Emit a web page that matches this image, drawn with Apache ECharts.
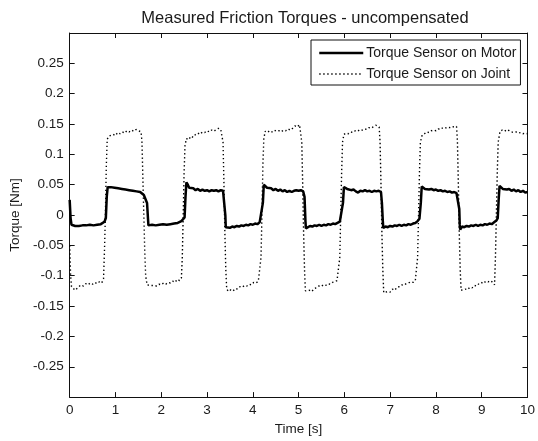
<!DOCTYPE html>
<html>
<head>
<meta charset="utf-8">
<script src="https://cdn.jsdelivr.net/npm/echarts@6/dist/echarts.min.js"></script>
<style>
html,body{margin:0;padding:0;background:#fff;}
#chart{width:538px;height:441px;}
</style>
</head>
<body>
<div id="chart"></div>
<script>
const chartTitle = 'Measured Friction Torques - uncompensated';
const xAxisName = 'Time [s]';
const yAxisName = 'Torque [Nm]';
const seriesNames = ['Torque Sensor on Motor', 'Torque Sensor on Joint'];

// [time s, torque Nm]
const motorTorque = [
  [0,0.025],[0.02,-0.005],[0.04,-0.016],[0.08,-0.019],[0.12,-0.018],[0.16,-0.020],[0.20,-0.018],[0.24,-0.019],[0.28,-0.017],[0.32,-0.019],[0.36,-0.017],[0.40,-0.018],[0.44,-0.016],[0.48,-0.018],[0.52,-0.017],[0.56,-0.018],[0.60,-0.016],[0.64,-0.017],[0.68,-0.015],[0.72,-0.014],[0.76,-0.011],[0.79,-0.005],
  [0.81,0.030],[0.83,0.046],[0.86,0.044],[0.90,0.046],[0.94,0.043],[0.98,0.045],[1.02,0.042],[1.06,0.044],[1.10,0.041],[1.14,0.043],[1.18,0.041],[1.22,0.042],[1.26,0.040],[1.30,0.041],[1.34,0.039],[1.38,0.040],[1.42,0.038],[1.46,0.039],[1.50,0.037],[1.54,0.038],[1.58,0.036],[1.62,0.033],[1.66,0.030],[1.69,0.020],[1.71,-0.005],[1.72,-0.017],
  [1.76,-0.018],[1.80,-0.016],[1.84,-0.018],[1.88,-0.017],[1.92,-0.018],[1.96,-0.016],[2.00,-0.017],[2.04,-0.015],[2.08,-0.017],[2.12,-0.016],[2.16,-0.017],[2.20,-0.015],[2.24,-0.016],[2.28,-0.014],[2.32,-0.015],[2.36,-0.013],[2.40,-0.012],[2.44,-0.010],[2.48,-0.008],[2.51,-0.004],
  [2.53,0.030],[2.55,0.054],[2.58,0.050],[2.61,0.045],[2.65,0.043],[2.70,0.044],[2.75,0.041],[2.80,0.043],[2.85,0.040],[2.90,0.042],[2.95,0.040],[3.00,0.041],[3.05,0.039],[3.10,0.041],[3.15,0.040],[3.20,0.041],[3.25,0.039],[3.30,0.041],[3.35,0.040],[3.38,0.038],[3.40,0.000],[3.41,-0.020],
  [3.45,-0.019],[3.50,-0.021],[3.55,-0.019],[3.60,-0.020],[3.65,-0.018],[3.70,-0.019],[3.75,-0.017],[3.80,-0.018],[3.85,-0.016],[3.90,-0.017],[3.95,-0.015],[4.00,-0.016],[4.05,-0.014],[4.10,-0.015],[4.15,-0.012],[4.19,-0.010],
  [4.22,0.020],[4.24,0.050],[4.27,0.049],[4.31,0.045],[4.35,0.043],[4.40,0.044],[4.45,0.041],[4.50,0.043],[4.55,0.040],[4.60,0.042],[4.65,0.039],[4.70,0.041],[4.75,0.038],[4.80,0.040],[4.85,0.038],[4.90,0.040],[4.95,0.041],[5.00,0.040],[5.05,0.041],[5.10,0.039],[5.13,0.030],[5.15,-0.010],[5.16,-0.022],
  [5.20,-0.020],[5.25,-0.018],[5.30,-0.019],[5.35,-0.017],[5.40,-0.018],[5.45,-0.016],[5.50,-0.018],[5.55,-0.016],[5.60,-0.017],[5.65,-0.015],[5.70,-0.016],[5.75,-0.014],[5.80,-0.015],[5.85,-0.013],[5.90,-0.011],[5.94,-0.008],
  [5.97,0.020],[5.99,0.046],[6.02,0.045],[6.06,0.043],[6.10,0.044],[6.15,0.041],[6.20,0.042],[6.25,0.039],[6.30,0.037],[6.35,0.040],[6.40,0.039],[6.45,0.041],[6.50,0.039],[6.55,0.040],[6.60,0.038],[6.65,0.040],[6.70,0.039],[6.75,0.040],[6.80,0.038],[6.82,0.020],[6.84,-0.010],[6.85,-0.021],
  [6.90,-0.019],[6.95,-0.020],[7.00,-0.018],[7.05,-0.019],[7.10,-0.017],[7.15,-0.018],[7.20,-0.016],[7.25,-0.018],[7.30,-0.016],[7.35,-0.017],[7.40,-0.015],[7.45,-0.016],[7.50,-0.014],[7.55,-0.013],[7.60,-0.010],[7.64,-0.006],
  [7.67,0.020],[7.69,0.047],[7.72,0.045],[7.76,0.043],[7.80,0.044],[7.85,0.042],[7.90,0.043],[7.95,0.041],[8.00,0.042],[8.05,0.040],[8.10,0.041],[8.15,0.039],[8.20,0.040],[8.25,0.038],[8.30,0.039],[8.35,0.037],[8.40,0.038],[8.45,0.036],[8.49,0.033],[8.51,0.010],[8.52,-0.015],[8.53,-0.024],
  [8.57,-0.019],[8.62,-0.020],[8.67,-0.018],[8.72,-0.019],[8.77,-0.017],[8.82,-0.018],[8.87,-0.016],[8.92,-0.018],[8.97,-0.016],[9.02,-0.017],[9.07,-0.015],[9.12,-0.016],[9.17,-0.014],[9.22,-0.015],[9.27,-0.012],[9.32,-0.009],[9.35,-0.005],
  [9.37,0.025],[9.39,0.048],[9.42,0.046],[9.46,0.043],[9.50,0.045],[9.55,0.042],[9.60,0.043],[9.65,0.040],[9.70,0.042],[9.75,0.039],[9.80,0.041],[9.85,0.038],[9.90,0.040],[9.95,0.037],[10.0,0.038]
];

const jointTorque = [
  [0,-0.050],[0.02,-0.100],[0.04,-0.118],[0.08,-0.120],[0.12,-0.124],[0.16,-0.122],[0.20,-0.118],[0.25,-0.115],[0.30,-0.117],[0.35,-0.113],[0.40,-0.115],[0.45,-0.112],[0.50,-0.114],[0.55,-0.111],[0.60,-0.113],[0.65,-0.110],[0.70,-0.112],[0.74,-0.105],
  [0.76,-0.060],[0.78,0.000],[0.80,0.080],[0.82,0.125],[0.86,0.130],[0.90,0.128],[0.95,0.133],[1.00,0.131],[1.05,0.136],[1.10,0.134],[1.15,0.137],[1.20,0.135],[1.25,0.139],[1.30,0.137],[1.35,0.140],[1.40,0.138],[1.45,0.141],[1.50,0.139],[1.54,0.138],
  [1.56,0.137],[1.58,0.120],[1.60,0.060],[1.62,0.000],[1.64,-0.060],[1.66,-0.100],[1.69,-0.115],[1.72,-0.118],[1.76,-0.116],[1.80,-0.119],[1.85,-0.116],[1.90,-0.117],[1.95,-0.114],[2.00,-0.115],[2.05,-0.112],[2.10,-0.114],[2.15,-0.111],[2.20,-0.112],[2.25,-0.109],[2.30,-0.111],[2.35,-0.106],[2.40,-0.108],[2.44,-0.104],
  [2.46,-0.070],[2.48,0.000],[2.50,0.070],[2.52,0.115],[2.55,0.126],[2.60,0.124],[2.65,0.130],[2.70,0.128],[2.75,0.133],[2.80,0.135],[2.85,0.133],[2.90,0.137],[2.95,0.136],[3.00,0.139],[3.05,0.137],[3.10,0.140],[3.15,0.138],[3.20,0.141],[3.25,0.143],[3.30,0.141],[3.33,0.140],
  [3.35,0.120],[3.37,0.050],[3.39,-0.030],[3.41,-0.090],[3.43,-0.122],[3.47,-0.126],[3.52,-0.123],[3.57,-0.125],[3.62,-0.121],[3.67,-0.122],[3.72,-0.118],[3.77,-0.119],[3.82,-0.116],[3.87,-0.117],[3.92,-0.114],[3.97,-0.115],[4.02,-0.111],[4.07,-0.112],[4.12,-0.109],[4.16,-0.108],
  [4.18,-0.070],[4.20,0.000],[4.22,0.080],[4.24,0.125],[4.27,0.138],[4.32,0.136],[4.37,0.139],[4.42,0.137],[4.47,0.140],[4.52,0.138],[4.57,0.139],[4.62,0.137],[4.67,0.140],[4.72,0.139],[4.77,0.142],[4.82,0.140],[4.87,0.143],[4.92,0.147],[4.97,0.145],[5.02,0.149],[5.05,0.146],
  [5.07,0.120],[5.09,0.050],[5.11,-0.030],[5.13,-0.090],[5.15,-0.125],[5.19,-0.128],[5.24,-0.124],[5.29,-0.126],[5.34,-0.121],[5.39,-0.120],[5.44,-0.117],[5.49,-0.118],[5.54,-0.115],[5.59,-0.116],[5.64,-0.113],[5.69,-0.114],[5.74,-0.111],[5.79,-0.110],[5.84,-0.108],[5.88,-0.106],
  [5.90,-0.070],[5.92,0.000],[5.94,0.070],[5.96,0.120],[5.99,0.133],[6.04,0.135],[6.09,0.134],[6.14,0.137],[6.19,0.136],[6.24,0.139],[6.29,0.138],[6.34,0.141],[6.39,0.140],[6.44,0.142],[6.49,0.141],[6.54,0.144],[6.59,0.143],[6.64,0.146],[6.69,0.148],[6.73,0.147],[6.76,0.145],
  [6.78,0.120],[6.80,0.050],[6.82,-0.030],[6.84,-0.090],[6.86,-0.128],[6.90,-0.130],[6.95,-0.126],[7.00,-0.127],[7.05,-0.122],[7.10,-0.124],[7.15,-0.119],[7.20,-0.118],[7.25,-0.115],[7.30,-0.116],[7.35,-0.113],[7.40,-0.112],[7.45,-0.110],[7.50,-0.111],[7.55,-0.108],[7.58,-0.107],
  [7.60,-0.070],[7.62,0.000],[7.64,0.070],[7.66,0.120],[7.70,0.132],[7.75,0.134],[7.80,0.137],[7.85,0.136],[7.90,0.139],[7.95,0.140],[8.00,0.139],[8.05,0.142],[8.10,0.141],[8.15,0.144],[8.20,0.143],[8.25,0.145],[8.30,0.144],[8.35,0.146],[8.40,0.145],[8.45,0.146],
  [8.47,0.120],[8.49,0.050],[8.51,-0.030],[8.53,-0.090],[8.55,-0.124],[8.59,-0.126],[8.64,-0.122],[8.69,-0.123],[8.74,-0.119],[8.79,-0.120],[8.84,-0.116],[8.89,-0.117],[8.94,-0.113],[8.99,-0.111],[9.04,-0.113],[9.09,-0.109],[9.14,-0.110],[9.19,-0.108],[9.24,-0.111],[9.28,-0.115],
  [9.30,-0.070],[9.32,0.000],[9.34,0.070],[9.36,0.120],[9.40,0.138],[9.45,0.140],[9.50,0.138],[9.55,0.141],[9.60,0.139],[9.65,0.137],[9.70,0.136],[9.75,0.137],[9.80,0.135],[9.85,0.136],[9.90,0.134],[9.95,0.135],[10.0,0.134]
];

const FONT = 'Liberation Sans, Arial, sans-serif';
const TXT = '#1a1a1a';
const LINE = '#111';

function axisCommon(extra) {
  return Object.assign({
    type: 'value',
    axisLine: { show: true, onZero: false, lineStyle: { color: LINE, width: 1 } },
    axisTick: { show: true, inside: true, length: 5, lineStyle: { color: LINE, width: 1 } },
    splitLine: { show: false },
    axisLabel: { show: false }
  }, extra);
}

const chart = echarts.init(document.getElementById('chart'), null, { renderer: 'canvas' });
chart.setOption({
  animation: false,
  backgroundColor: '#fff',
  title: {
    text: chartTitle,
    left: 300,
    textAlign: 'center',
    top: 5,
    textStyle: { fontFamily: FONT, fontSize: 16.5, fontWeight: 'normal', color: TXT }
  },
  grid: { left: 69, right: 6, top: 33, bottom: 42, containLabel: false },
  legend: {
    orient: 'vertical',
    left: 311,
    top: 40,
    padding: [6, 4, 4, 7],
    itemGap: 7,
    itemWidth: 44,
    itemHeight: 14,
    backgroundColor: '#fff',
    borderColor: LINE,
    borderWidth: 1,
    borderRadius: 0,
    itemStyle: { opacity: 0, borderWidth: 0 },
    lineStyle: { color: 'inherit', width: 'inherit', type: 'inherit' },
    textStyle: { fontFamily: FONT, fontSize: 14, color: TXT, padding: [0, 0, 0, -2] },
    data: seriesNames
  },
  xAxis: [
    axisCommon({
      min: 0, max: 10, interval: 1, position: 'bottom',
      name: xAxisName, nameLocation: 'middle', nameGap: 23,
      nameTextStyle: { fontFamily: FONT, fontSize: 13.5, color: TXT },
      axisLabel: { show: true, margin: 6, fontFamily: FONT, fontSize: 13.5, color: TXT }
    }),
    axisCommon({ min: 0, max: 10, interval: 1, position: 'top' })
  ],
  yAxis: [
    axisCommon({
      min: -0.3, max: 0.3, interval: 0.05, position: 'left',
      name: yAxisName, nameLocation: 'middle', nameGap: 42,
      nameTextStyle: { fontFamily: FONT, fontSize: 13.5, color: TXT },
      axisLabel: {
        show: true, margin: 6, fontFamily: FONT, fontSize: 13.5, color: TXT,
        formatter: function (v) { return Math.abs(v) > 0.29 ? '' : String(Math.round(v * 100) / 100); }
      }
    }),
    axisCommon({ min: -0.3, max: 0.3, interval: 0.05, position: 'right' })
  ],
  series: [
    {
      name: seriesNames[0], type: 'line', data: motorTorque,
      xAxisIndex: 0, yAxisIndex: 0,
      symbol: 'none', showSymbol: false, z: 3,
      lineStyle: { color: '#000', width: 2.5, type: 'solid' },
      itemStyle: { color: '#000' }
    },
    {
      name: seriesNames[1], type: 'line', data: jointTorque,
      xAxisIndex: 0, yAxisIndex: 0,
      symbol: 'none', showSymbol: false, z: 2,
      lineStyle: { color: '#000', width: 1.4, type: [1.4, 2.6] },
      itemStyle: { color: '#000' }
    }
  ]
});
</script>
</body>
</html>
